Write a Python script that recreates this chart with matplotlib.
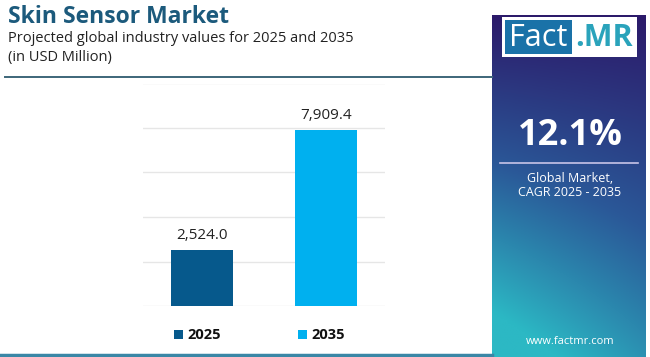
import matplotlib

matplotlib.use("Agg")
import matplotlib.pyplot as plt
import numpy as np
from matplotlib.patches import Rectangle

plt.rcParams["font.family"] = ["Open Sans", "DejaVu Sans"]

years = ["2025", "2035"]
values = [2524.0, 7909.4]
bar_colors = ["#06598c", "#00b0ef"]
grid_ticks = [0, 2000, 4000, 6000, 8000, 10000]
cagr = "12.1%"

W, H = 650, 357
fig = plt.figure(figsize=(W / 100, H / 100), dpi=100)
fig.patch.set_facecolor("white")

# overlay axes in pixel coordinates (y down)
deco = fig.add_axes([0, 0, 1, 1])
deco.set_xlim(0, W)
deco.set_ylim(H, 0)
deco.axis("off")

# header
deco.text(8, 17, "Skin Sensor Market", fontsize=16.5, fontweight="bold",
          color="#1c5a7c", va="center", ha="left")
deco.text(8, 39, "Projected global industry values for 2025 and 2035",
          fontsize=10.5, color="#222222", va="center", ha="left")
deco.text(8, 57, "(in USD Million)", fontsize=10.5, color="#222222",
          va="center", ha="left")
deco.plot([5, 492], [77, 77], color="#3d6679", lw=1.4)
deco.plot([0, 492], [355, 355], color="#3a87a6", lw=2.5)

# right panel gradient
px0, px1, py0, py1 = 492, 646, 15, 357
ny, nx = 200, 100
yy, xx = np.mgrid[0:1:ny * 1j, 0:1:nx * 1j]
t = np.clip(0.8 * yy + 0.35 * (1 - xx) * yy, 0, 1)
top = np.array([0x2c, 0x1a, 0x6a]) / 255
mid = np.array([0x2a, 0x58, 0x98]) / 255
bot = np.array([0x2c, 0xb8, 0xc4]) / 255
t3 = t[..., None]
grad = np.where(t3 < 0.5, top + (mid - top) * (t3 / 0.5),
                mid + (bot - mid) * ((t3 - 0.5) / 0.5))
deco.imshow(grad, extent=[px0, px1, py1, py0], aspect="auto", zorder=1)

# logo
deco.add_patch(Rectangle((502, 17), 135, 40, facecolor="white", zorder=2))
deco.add_patch(Rectangle((505, 20), 67, 34, facecolor="#1a72a8", zorder=3))
deco.text(538, 38, "Fact", fontsize=22, color="white", ha="center",
          va="center", zorder=4)
deco.text(604, 38, ".MR", fontsize=22, color="#2aa3bb", fontweight="bold",
          ha="center", va="center", zorder=4)

deco.text(570, 136, cagr, fontsize=26, fontweight="bold", color="white",
          ha="center", va="center", zorder=4)
deco.plot([500, 638], [163, 163], color="#c8c4e8", lw=1.2, zorder=4)
deco.text(570, 178, "Global Market,", fontsize=9, color="white",
          ha="center", va="center", zorder=4)
deco.text(570, 193, "CAGR 2025 - 2035", fontsize=9, color="white",
          ha="center", va="center", zorder=4)
deco.text(570, 342, "www.factmr.com", fontsize=8, color="white",
          ha="center", va="center", zorder=4)

# bar chart
base_px, top_px = 306, 83.5
ax = fig.add_axes([143 / W, (H - base_px) / H, (385 - 143) / W,
                   (base_px - top_px) / H])
ax.set_facecolor("none")
x = np.arange(len(years))
for g in grid_ticks:
    ax.axhline(g, color="#e6e6e6", lw=1, zorder=0)
ax.bar(x, values, width=0.5, color=bar_colors, zorder=2)
for xi, v in zip(x, values):
    ax.text(xi, v + 300, f"{v:,.1f}", ha="center", va="bottom",
            fontsize=11, color="#222222")
ax.set_xlim(-0.476, 1.476)
ax.set_ylim(0, 10000)
ax.axis("off")

# legend
for i, (yr, c) in enumerate(zip(years, bar_colors)):
    lx = 174 + i * 124
    deco.add_patch(Rectangle((lx, 330), 9, 9, facecolor=c, zorder=3))
    deco.text(lx + 13, 335, yr, fontsize=10.5, fontweight="bold",
              color="#111111", ha="left", va="center")

fig.savefig("out.png", dpi=100)
